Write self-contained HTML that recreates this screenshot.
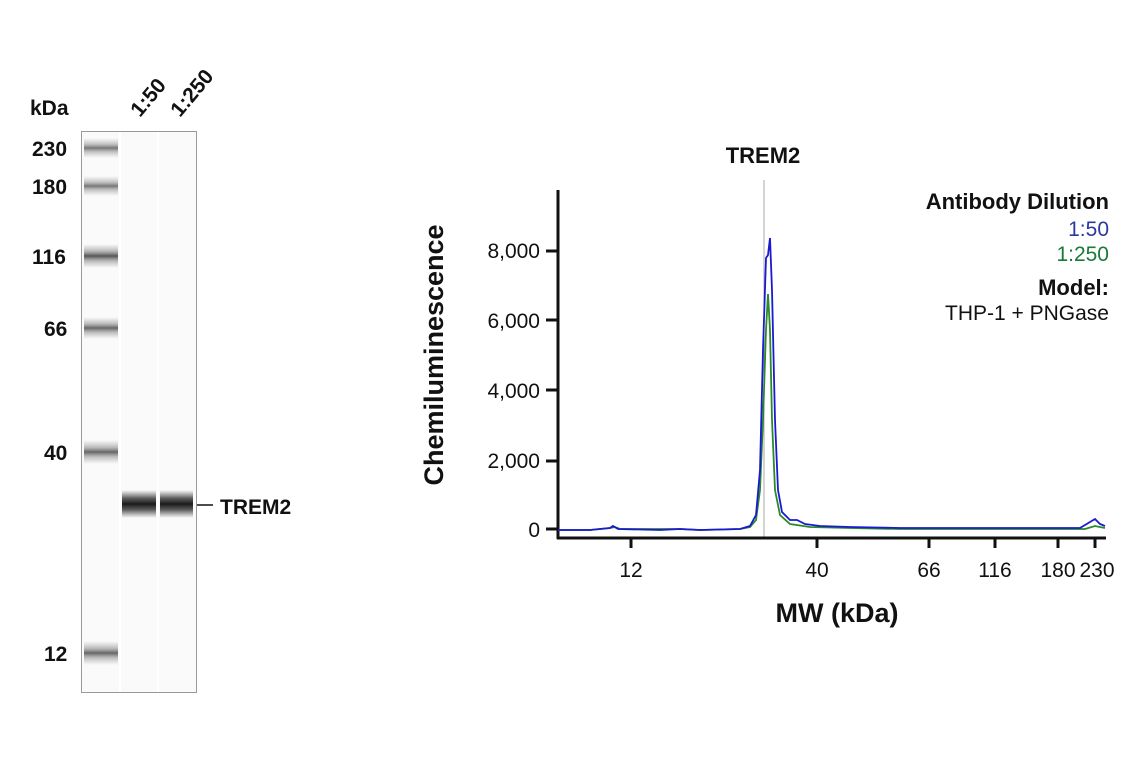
<!DOCTYPE html>
<html><head><style>
body{margin:0;width:1141px;height:768px;background:#fff;overflow:hidden;font-family:"Liberation Sans",sans-serif}
</style></head><body>
<svg width="1141" height="768" style="position:absolute;left:0;top:0" font-family="Liberation Sans, sans-serif">
<defs>
<linearGradient id="bd" x1="0" y1="0" x2="0" y2="1">
<stop offset="0" stop-color="#999" stop-opacity="0"/><stop offset="0.3" stop-color="#888" stop-opacity="0.6"/><stop offset="0.5" stop-color="#555"/><stop offset="0.7" stop-color="#888" stop-opacity="0.6"/><stop offset="1" stop-color="#999" stop-opacity="0"/></linearGradient>
<linearGradient id="bk" x1="0" y1="0" x2="0" y2="1">
<stop offset="0" stop-color="#444" stop-opacity="0"/><stop offset="0.3" stop-color="#333" stop-opacity="0.8"/><stop offset="0.5" stop-color="#1a1a1a"/><stop offset="0.7" stop-color="#333" stop-opacity="0.8"/><stop offset="1" stop-color="#444" stop-opacity="0"/></linearGradient>
</defs>
<rect x="81.5" y="131.5" width="115" height="561" fill="#fafafa" stroke="#999"/>
<rect x="119" y="132" width="2" height="560" fill="#fff"/>
<rect x="157" y="132" width="2" height="560" fill="#fff"/>
<g fill="url(#bd)">
<rect x="84" y="138" width="34" height="20" opacity="0.8"/>
<rect x="84" y="176" width="34" height="20" opacity="0.8"/>
<rect x="84" y="244" width="34" height="24"/>
<rect x="84" y="317" width="34" height="22" opacity="0.9"/>
<rect x="84" y="440" width="34" height="24" opacity="0.9"/>
<rect x="84" y="641" width="34" height="24" opacity="0.9"/>
</g>
<rect x="122" y="490" width="34" height="28" fill="url(#bk)"/>
<rect x="160" y="490" width="33" height="28" fill="url(#bk)"/>
<line x1="197" y1="505" x2="213" y2="505" stroke="#111" stroke-width="1.5"/>
<g font-weight="bold" font-size="21" fill="#111">
<text x="30" y="115">kDa</text>
<text x="32" y="156">230</text><text x="32" y="194">180</text>
<text x="32" y="264">116</text><text x="44" y="336">66</text>
<text x="44" y="460">40</text><text x="44" y="661">12</text>
<text x="220" y="514">TREM2</text>
<text transform="translate(140,118) rotate(-50)">1:50</text>
<text transform="translate(180,118) rotate(-50)">1:250</text>
</g>
<line x1="764" y1="180" x2="764" y2="538" stroke="#aaa" stroke-width="1"/>
<g stroke="#111" stroke-width="3" fill="none">
<line x1="558" y1="190" x2="558" y2="539"/>
<line x1="557" y1="538" x2="1106" y2="538"/>
<path d="M546 251H558M546 320H558M546 390H558M546 461H558M546 529H558"/>
<path d="M631 538V548M817 538V548M929 538V548M995 538V548M1058 538V548M1095 538V548"/>
</g>
<path d="M558 530 L590 530 L610 528 L615 527 L620 529 L680 529 L700 530 L740 529 L750 527 L756 520 L760 490 L763 420 L766 330 L768 294 L770 330 L772 420 L775 490 L780 515 L790 524 L810 527 L850 528 L900 529 L1000 529 L1085 529 L1095 526 L1105 528" stroke="#2a8a2a" stroke-width="1.8" fill="none"/>
<path d="M558 530 L590 530 L610 528 L613 526 L618 529 L660 530 L680 529 L700 530 L740 529 L750 526 L756 515 L760 470 L763 350 L766 258 L768 255 L770 238 L772 290 L775 420 L778 490 L782 512 L790 520 L797 520 L805 524 L820 526 L850 527 L900 528 L1000 528 L1080 528 L1090 522 L1095 519 L1100 524 L1105 526" stroke="#1a1ad0" stroke-width="1.8" fill="none"/>
<g font-size="21" fill="#111" text-anchor="end">
<text x="540" y="258">8,000</text><text x="540" y="328">6,000</text>
<text x="540" y="398">4,000</text><text x="540" y="468">2,000</text>
<text x="540" y="537">0</text>
</g>
<g font-size="21" fill="#111" text-anchor="middle">
<text x="631" y="577">12</text><text x="817" y="577">40</text>
<text x="929" y="577">66</text><text x="995" y="577">116</text>
<text x="1058" y="577">180</text><text x="1097" y="577">230</text>
</g>
<text x="837" y="622" font-size="27" font-weight="bold" text-anchor="middle" fill="#111">MW (kDa)</text>
<text x="763" y="163" font-size="22" font-weight="bold" text-anchor="middle" fill="#111">TREM2</text>
<text transform="translate(443,355) rotate(-90)" font-size="27" font-weight="bold" text-anchor="middle" fill="#111">Chemiluminescence</text>
<g text-anchor="end" font-size="21">
<text x="1109" y="209" font-weight="bold" font-size="22" fill="#111">Antibody Dilution</text>
<text x="1109" y="236" fill="#2a3a9a">1:50</text>
<text x="1109" y="261" fill="#1a7a3a">1:250</text>
<text x="1109" y="295" font-weight="bold" font-size="22" fill="#111">Model:</text>
<text x="1109" y="320" fill="#111">THP-1 + PNGase</text>
</g>
</svg>
</body></html>
